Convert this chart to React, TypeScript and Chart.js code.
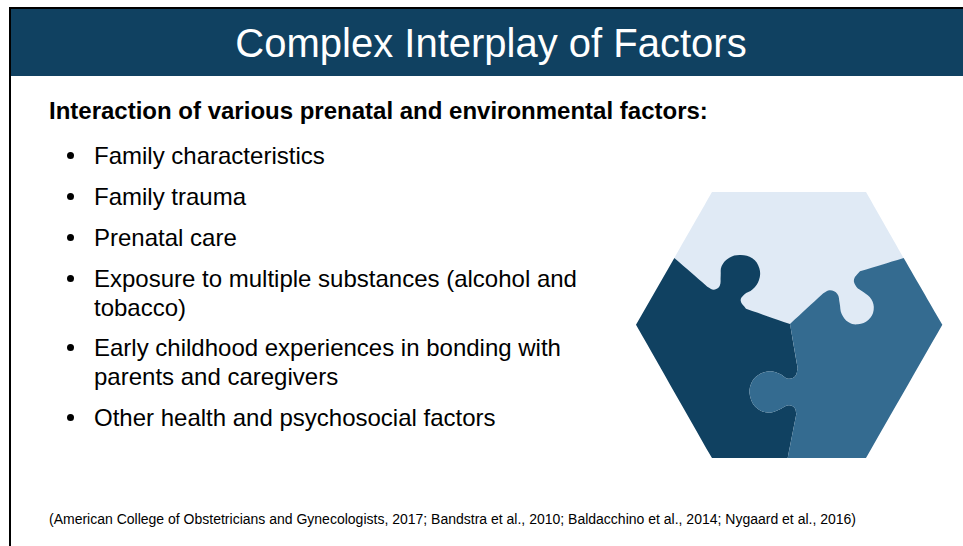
import React, { useEffect, useRef } from "react";
import { Chart, registerables } from "chart.js";

Chart.register(...registerables);

const titleText = "Complex Interplay of Factors";
const headingText = "Interaction of various prenatal and environmental factors:";
const bulletItems = [
  { lines: ["Family characteristics"], y: 156 },
  { lines: ["Family trauma"], y: 197 },
  { lines: ["Prenatal care"], y: 238 },
  { lines: ["Exposure to multiple substances (alcohol and", "tobacco)"], y: 279 },
  { lines: ["Early childhood experiences in bonding with", "parents and caregivers"], y: 348 },
  { lines: ["Other health and psychosocial factors"], y: 418 },
];
const citationText =
  "(American College of Obstetricians and Gynecologists, 2017; Bandstra et al., 2010; Baldacchino et al., 2014; Nygaard et al., 2016)";

const lightPiece: number[][] = [
  [163, 234], [163, 234], [276, 36], [276, 36], [738, 36], [738, 36], [851, 234], [851, 234],
  [800, 450], [800, 450], [500, 450], [500, 450], [250, 350], [250, 350],
];

const darkPiece: number[][] = [
  [163, 234], [163, 234], [262, 320], [262, 320],
  [282, 329], [299, 318], [302, 288], [305, 258], [328, 233], [362, 225], [397, 235], [418, 265], [417, 300], [398, 328],
  [372, 344], [362, 362], [378, 386], [378, 386],
  [510, 432], [510, 432], [533, 565], [533, 565],
  [526, 588], [505, 596], [478, 581], [448, 574], [414, 586], [393, 612], [390, 648], [410, 684], [447, 698], [480, 688],
  [506, 676], [524, 684], [529, 702], [529, 702],
  [503, 834], [503, 834], [276, 834], [276, 834], [48, 434], [48, 434],
];

const midPiece: number[][] = [
  [510, 432], [510, 432], [610, 340], [610, 340],
  [630, 331], [652, 342], [659, 370], [665, 402], [686, 427], [714, 433], [745, 420], [761, 390], [754, 358], [730, 336],
  [709, 320], [702, 298], [720, 274], [720, 274],
  [851, 234], [851, 234], [967, 434], [967, 434], [738, 834], [738, 834], [503, 834], [503, 834], [529, 702], [529, 702],
  [524, 684], [506, 676], [480, 688], [447, 698], [410, 684], [390, 648], [393, 612], [414, 586], [448, 574], [478, 581],
  [505, 596], [526, 588], [533, 565], [533, 565],
];

const DARK = "#104161";
const MID = "#346b90";
const LIGHT = "#e0eaf5";
const FONT = '"Liberation Sans", Arial, sans-serif';

function toPoints(list: number[][]) {
  return list.map(([x, y]) => ({ x, y }));
}

function piece(label: string, list: number[][], color: string) {
  return {
    label,
    data: toPoints(list),
    showLine: true,
    fill: "shape" as const,
    backgroundColor: color,
    borderColor: color,
    borderWidth: 0,
    pointRadius: 0,
    tension: 0.4,
  };
}

function Text({ x, y, size, bold, color, children, width, align }: any) {
  const lh = Math.round(size * 1.4);
  return (
    <div
      style={{
        position: "absolute",
        left: x,
        top: y - lh / 2,
        width: width ?? "auto",
        textAlign: align ?? "left",
        whiteSpace: "nowrap",
        fontFamily: FONT,
        fontSize: size,
        fontWeight: bold ? 700 : 400,
        lineHeight: `${lh}px`,
        color: color ?? "#000",
      }}
    >
      {children}
    </div>
  );
}

export default function App() {
  const ref = useRef<HTMLCanvasElement>(null);

  useEffect(() => {
    const chart = new Chart(ref.current!, {
      type: "scatter",
      data: {
        datasets: [
          piece("Piece 3", midPiece, MID),
          piece("Piece 2", darkPiece, DARK),
          piece("Piece 1", lightPiece, LIGHT),
        ],
      },
      options: {
        animation: false,
        responsive: false,
        layout: { padding: 0 },
        plugins: { legend: { display: false }, tooltip: { enabled: false }, title: { display: false } },
        events: [],
        scales: {
          x: { type: "linear", display: false, min: 0, max: 1020 },
          y: { type: "linear", display: false, min: 0, max: 870, reverse: true },
        },
      },
    });
    return () => chart.destroy();
  }, []);

  const LINE = 29;
  return (
    <div style={{ position: "absolute", left: 0, top: 0, width: 963, height: 546, background: "#fff", overflow: "hidden" }}>
      <div style={{ position: "absolute", left: 9, top: 7, width: 954, height: 2, background: "#000" }} />
      <div style={{ position: "absolute", left: 9, top: 7, width: 2, height: 539, background: "#000" }} />
      <div style={{ position: "absolute", left: 11, top: 9, width: 952, height: 67, background: DARK }} />
      <Text x={11} y={43} width={960} align="center" size={40} color="#fff">{titleText}</Text>
      <Text x={49} y={111} size={24} bold>{headingText}</Text>
      {bulletItems.map((item) => (
        <React.Fragment key={item.y}>
          <div style={{ position: "absolute", left: 67, top: item.y - 4, width: 7, height: 7, borderRadius: "50%", background: "#000" }} />
          {item.lines.map((line, i) => (
            <Text key={line} x={94} y={item.y + i * LINE} size={24}>{line}</Text>
          ))}
        </React.Fragment>
      ))}
      <Text x={49} y={519} size={14}>{citationText}</Text>
      <canvas ref={ref} width={340} height={290} style={{ position: "absolute", left: 620, top: 180, width: 340, height: 290 }} />
    </div>
  );
}
